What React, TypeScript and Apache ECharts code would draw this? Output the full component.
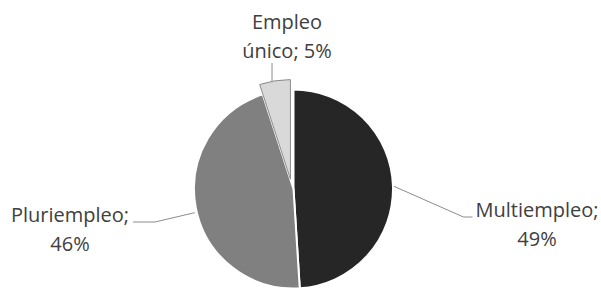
import React, { useEffect, useRef } from 'react';
import * as echarts from 'echarts';

const categories = ['Multiempleo', 'Pluriempleo', 'Empleo único'];
const values = [49, 46, 5];
const colors = ['#262626', '#808080', '#d9d9d9'];
const explodedIndex = 2;

export default function App() {
  const ref = useRef<HTMLDivElement>(null);
  useEffect(() => {
    const chart = echarts.init(ref.current as HTMLDivElement, null, { renderer: 'svg' });
    const cx = 293.5;
    const cy = 189;
    const radius = 99.5;
    const explodeOffset = 10;
    const total = values.reduce((s, v) => s + v, 0);
    let before = 0;
    for (let k = 0; k < explodedIndex; k++) before += values[k];
    const midFrac = (before + values[explodedIndex] / 2) / total;
    const midAng = midFrac * Math.PI * 2; // clockwise from top
    const ex = cx + Math.sin(midAng) * explodeOffset - 1.5;
    const ey = cy - Math.cos(midAng) * explodeOffset;

    const labelPos = [
      { x: 537, y: 224 },
      { x: 70, y: 229 },
      { x: 287, y: 36 },
    ];

    const formatter = (p: any) => {
      const n: string = p.name;
      const idx = n.indexOf(' ');
      return idx >= 0
        ? n.slice(0, idx) + '\n' + n.slice(idx + 1) + '; ' + p.value + '%'
        : n + ';\n' + p.value + '%';
    };

    const labelLayout = (p: any) => {
      const i = p.dataIndex;
      const pos = labelPos[i];
      const w = p.labelRect.width;
      const h = p.labelRect.height;
      const a = p.labelLinePoints ? p.labelLinePoints[0] : [0, 0];
      let pts: number[][];
      if (i === 0) {
        const lx = pos.x - w / 2;
        pts = [a, [lx - 12, pos.y - 7], [lx - 3, pos.y - 7]];
      } else if (i === 1) {
        const rx = pos.x + w / 2;
        pts = [[a[0] - 1, a[1] + 5], [rx + 26, pos.y - 7], [rx + 4, pos.y - 7]];
      } else {
        const by = pos.y + h / 2;
        const lx = pos.x - 15;
        pts = [[lx, a[1] + 1], [lx, (a[1] + by) / 2], [lx, by - 2]];
      }
      return {
        x: pos.x,
        y: pos.y,
        align: 'center',
        verticalAlign: 'middle',
        labelLinePoints: pts,
      };
    };

    const baseLabel = {
      show: true,
      position: 'outside',
      color: '#404040',
      fontFamily: 'Open Sans',
      fontSize: 20,
      lineHeight: 29,
      align: 'center',
      formatter,
    };
    const baseLine = {
      show: true,
      length: 20,
      length2: 10,
      lineStyle: { color: '#8c8c8c', width: 1 },
    };
    const hidden = {
      itemStyle: { color: 'rgba(0,0,0,0)', borderWidth: 0 },
      label: { show: false },
      labelLine: { show: false },
    };

    const makeData = (visible: (i: number) => boolean) =>
      categories.map((name, i) =>
        visible(i)
          ? {
              name,
              value: values[i],
              itemStyle: {
                color: colors[i],
                borderColor: i === explodedIndex ? '#8c8c8c' : '#ffffff',
                borderWidth: i === explodedIndex ? 1 : 2,
              },
            }
          : { name, value: values[i], ...hidden }
      );

    const common = {
      type: 'pie',
      radius,
      startAngle: 90,
      clockwise: true,
      avoidLabelOverlap: false,
      silent: true,
      emphasis: { disabled: true },
      label: baseLabel,
      labelLine: baseLine,
      labelLayout,
    };

    chart.setOption({
      animation: false,
      series: [
        {
          ...common,
          center: [cx, cy],
          data: makeData((i) => i !== explodedIndex),
        },
        {
          ...common,
          center: [ex, ey],
          data: makeData((i) => i === explodedIndex),
        },
      ],
    });
    return () => chart.dispose();
  }, []);
  return (
    <div
      ref={ref}
      style={{ position: 'absolute', left: 0, top: 0, width: 601, height: 288 }}
    />
  );
}
